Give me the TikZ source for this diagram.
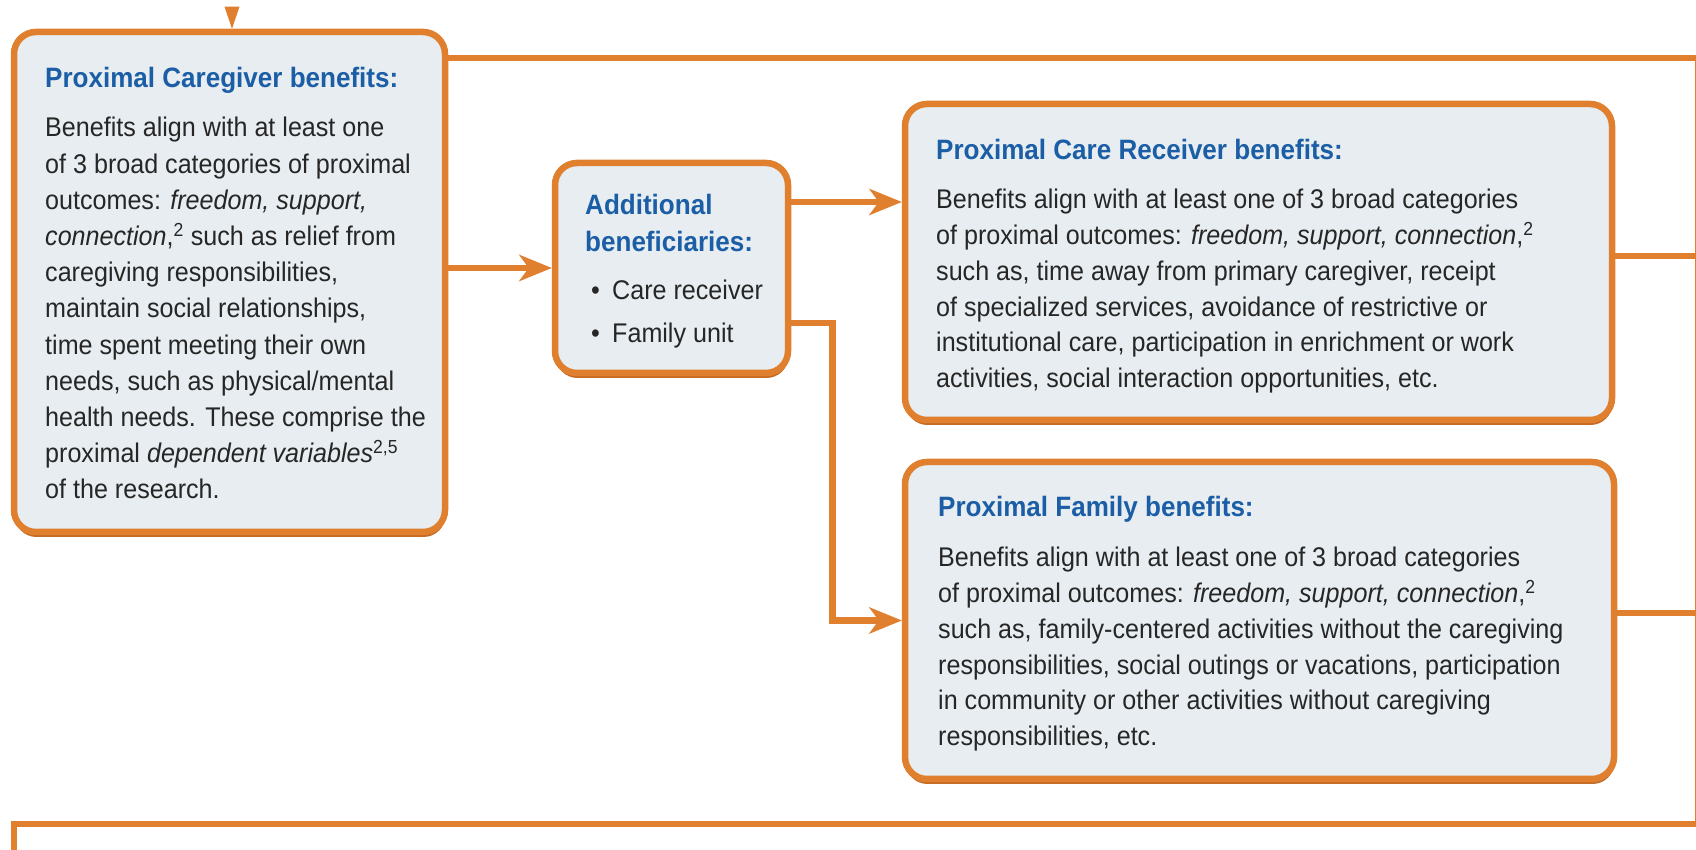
\documentclass[tikz,border=0pt]{standalone}
\usepackage{fontspec}
\setmainfont{Liberation Sans}[FakeStretch=0.93]
\usetikzlibrary{arrows.meta,shadows}

\definecolor{accent}{HTML}{E0802E}
\definecolor{accentdark}{HTML}{C46C26}
\definecolor{panel}{HTML}{E7EDF0}
\definecolor{headblue}{HTML}{1B5EA6}
\definecolor{ink}{HTML}{262626}

% type sizes for headings and the two body-text measures
\newcommand{\hdfont}{\fontsize{28}{37}\selectfont\bfseries}
\newcommand{\cgtext}{\fontsize{27}{36.2}\selectfont}
\newcommand{\crtext}{\fontsize{27}{35.7}\selectfont}

\tikzset{
  panelbox/.style={draw=accent, line width=6.5pt, fill=panel, rounded corners=22pt,
    drop shadow={shadow xshift=0.5pt, shadow yshift=-5pt, fill=accentdark, opacity=1}},
  flow/.style={draw=accent, line width=6.5pt,
    -{Stealth[length=33pt,width=27pt,inset=10pt,line width=0pt]}},
  wire/.style={draw=accent, line width=6pt, line join=miter},
  heading/.style={font=\hdfont, text=headblue, inner sep=0pt, anchor=base west},
  bodytext/.style={text=ink, inner sep=0pt, anchor=base west},
}

\begin{document}
\begin{tikzpicture}[x=1pt, y=1pt]
  \useasboundingbox (0,0) rectangle (1696,850);
  \clip (0,0) rectangle (1696,850);
  \fill[white] (0,0) rectangle (1696,850);

  % panels
  \node[panelbox, minimum width=431pt, minimum height=500pt] (care) at (229.5,568) {};
  \node[panelbox, minimum width=233pt, minimum height=210pt] (add) at (671.5,582) {};
  \node[panelbox, minimum width=707pt, minimum height=316pt] (rec) at (1258.5,588) {};
  \node[panelbox, minimum width=709pt, minimum height=317pt] (fam) at (1259.5,229.5) {};

  % caregiver panel text
  \node[heading] (careHead) at (45,762) {Proximal Caregiver benefits:};
  \node[bodytext, font=\cgtext] (careBody) at (45,713) {\begin{tabular}[t]{@{}l@{}}
    Benefits align with at least one\\
    of 3 broad categories of proximal\\
    outcomes: \textit{freedom, support,}\\
    \textit{connection},\textsuperscript{2} such as relief from\\
    caregiving responsibilities,\\
    maintain social relationships,\\
    time spent meeting their own\\
    needs, such as physical/mental\\
    health needs. These comprise the\\
    proximal \textit{dependent variables}\textsuperscript{2,5}\\
    of the research.
  \end{tabular}};

  % additional beneficiaries panel text
  \node[heading] (addHead) at (585,635) {\begin{tabular}[t]{@{}l@{}}
    Additional\\ beneficiaries:
  \end{tabular}};
  \node[bodytext, font=\crtext] (addList) at (591,550) {\begin{tabular}[t]{@{}l@{}}
    \makebox[21pt][l]{\textbullet}Care receiver\\[7.3pt]
    \makebox[21pt][l]{\textbullet}Family unit
  \end{tabular}};

  % care receiver panel text
  \node[heading] (recHead) at (936,690) {Proximal Care Receiver benefits:};
  \node[bodytext, font=\crtext] (recBody) at (936,641) {\begin{tabular}[t]{@{}l@{}}
    Benefits align with at least one of 3 broad categories\\
    of proximal outcomes: \textit{freedom, support, connection},\textsuperscript{2}\\
    such as, time away from primary caregiver, receipt\\
    of specialized services, avoidance of restrictive or\\
    institutional care, participation in enrichment or work\\
    activities, social interaction opportunities, etc.
  \end{tabular}};

  % family panel text
  \node[heading] (famHead) at (938,333) {Proximal Family benefits:};
  \node[bodytext, font=\crtext] (famBody) at (938,283) {\begin{tabular}[t]{@{}l@{}}
    Benefits align with at least one of 3 broad categories\\
    of proximal outcomes: \textit{freedom, support, connection},\textsuperscript{2}\\
    such as, family-centered activities without the caregiving\\
    responsibilities, social outings or vacations, participation\\
    in community or other activities without caregiving\\
    responsibilities, etc.
  \end{tabular}};

  % connector end points
  \coordinate (feedIn) at (232,843);
  \coordinate (addR1) at ([yshift=66pt]add.east);
  \coordinate (addR2) at ([yshift=-55pt]add.east);
  \coordinate (recR) at ([yshift=6pt]rec.east);
  \coordinate (famR) at ([yshift=7pt]fam.east);
  \coordinate (busTop) at (1697.5,792);
  \coordinate (busBot) at (1697.5,26);
  \coordinate (bottomLeft) at (14,-10);

  % incoming arrow on the caregiver panel
  \draw[accent, line width=4pt, -{Triangle[length=22pt,width=15pt,line width=0pt]}]
    (feedIn) -- (feedIn |- care.north);

  % flow between panels
  \draw[flow] (care.east |- add.west) -- (add.west);
  \draw[flow] (addR1) -- (addR1 -| rec.west);
  \draw[flow] (addR2) -- ++(41,0) |- (fam.west);

  % outgoing lines to the right-hand bus and the frame below
  \draw[wire] (care.east |- busTop) -- (busTop) -- (busBot)
    -- (bottomLeft |- busBot) -- (bottomLeft);
  \draw[wire] (recR) -- (recR -| busTop);
  \draw[wire] (famR) -- (famR -| busTop);
\end{tikzpicture}
\end{document}
